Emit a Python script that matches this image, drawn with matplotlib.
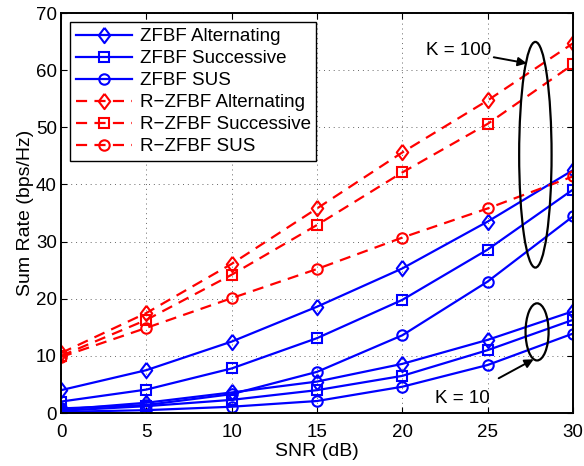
import matplotlib
matplotlib.use("Agg")
import matplotlib.pyplot as plt
from matplotlib.patches import Ellipse

plt.rcParams['font.family'] = ['Liberation Sans', 'DejaVu Sans']

snr = [0, 5, 10, 15, 20, 25, 30]

# K = 100
zf_alt_100 = [4.0, 7.5, 12.5, 18.6, 25.3, 33.5, 42.5]
zf_suc_100 = [2.0, 4.1, 7.8, 13.1, 19.8, 28.6, 39.1]
zf_sus_100 = [0.8, 1.4, 3.3, 7.2, 13.6, 23.0, 34.4]
rzf_alt_100 = [10.5, 17.5, 26.1, 35.8, 45.6, 54.7, 64.7]
rzf_suc_100 = [10.0, 16.3, 24.2, 32.9, 42.1, 50.6, 61.0]
rzf_sus_100 = [9.8, 14.9, 20.1, 25.2, 30.7, 35.8, 41.4]

# K = 10
zf_alt_10 = [0.6, 1.8, 3.6, 5.5, 8.6, 12.8, 17.8]
zf_suc_10 = [0.4, 1.2, 2.3, 4.0, 6.5, 11.0, 16.3]
zf_sus_10 = [0.2, 0.5, 1.1, 2.1, 4.6, 8.4, 13.9]

labels = ['ZFBF Alternating', 'ZFBF Successive', 'ZFBF SUS',
          'R\u2212ZFBF Alternating', 'R\u2212ZFBF Successive', 'R\u2212ZFBF SUS']

# matlab-like diamond, a bit wider than mpl's 'd'
diamond = [(0, 1), (0.75, 0), (0, -1), (-0.75, 0), (0, 1)]

fig = plt.figure(figsize=(5.84, 4.66), dpi=100)
ax = fig.add_axes([0.1045, 0.1137, 0.8765, 0.8583])

kw = dict(lw=1.6, mfc='none', mew=1.5)
dash = dict(ls='--', dashes=(5, 3.3))
ax.plot(snr, zf_alt_100, marker=diamond, color='blue', ms=11, label=labels[0], **kw)
ax.plot(snr, zf_suc_100, marker='s', color='blue', ms=6.5, label=labels[1], **kw)
ax.plot(snr, zf_sus_100, marker='o', color='blue', ms=7.5, label=labels[2], **kw)
ax.plot(snr, rzf_alt_100, marker=diamond, color='red', ms=11, label=labels[3], **dash, **kw)
ax.plot(snr, rzf_suc_100, marker='s', color='red', ms=6.5, label=labels[4], **dash, **kw)
ax.plot(snr, rzf_sus_100, marker='o', color='red', ms=7.5, label=labels[5], **dash, **kw)

ax.plot(snr, zf_alt_10, marker=diamond, color='blue', ms=11, **kw)
ax.plot(snr, zf_suc_10, marker='s', color='blue', ms=6.5, **kw)
ax.plot(snr, zf_sus_10, marker='o', color='blue', ms=7.5, **kw)

# annotations
ax.add_patch(Ellipse((27.8, 45.2), 1.9, 39.5, fill=False, ec='black', lw=1.6, zorder=5))
ax.add_patch(Ellipse((27.9, 14.2), 1.35, 10.0, fill=False, ec='black', lw=1.6, zorder=5))
ax.annotate('K = 100', xy=(27.3, 61.2), xytext=(25.2, 63.4), fontsize=13.5,
            ha='right', va='center',
            arrowprops=dict(arrowstyle='-|>', color='black', lw=1.4,
                            mutation_scale=13, shrinkA=0, shrinkB=0))
ax.annotate('K = 10', xy=(27.7, 9.4), xytext=(23.5, 2.6), fontsize=13.5,
            ha='center', va='center',
            arrowprops=dict(arrowstyle='-|>', color='black', lw=1.4,
                            mutation_scale=13, shrinkA=13, shrinkB=0))

ax.set_xlim(0, 30)
ax.set_ylim(0, 70)
ax.set_xticks(snr)
ax.set_yticks(range(0, 71, 10))
ax.tick_params(direction='in', labelsize=13.5, length=4, top=True, right=True, pad=3)
ax.tick_params(axis='x', pad=8)
ax.grid(True, linestyle=(0, (1, 4)), color='black', lw=0.7, alpha=0.6)
for s in ax.spines.values():
    s.set_linewidth(1.4)
ax.set_xlabel('SNR (dB)', fontsize=14, labelpad=1)
ax.set_ylabel('Sum Rate (bps/Hz)', fontsize=14, labelpad=1)

leg = ax.legend(loc='upper left', fontsize=13.5, handlelength=3.0, borderpad=0.3,
                labelspacing=0.26, handletextpad=0.4, fancybox=False,
                framealpha=1, edgecolor='black', borderaxespad=0.5)
leg.get_frame().set_linewidth(1.0)

fig.savefig('out.png', dpi=100)
